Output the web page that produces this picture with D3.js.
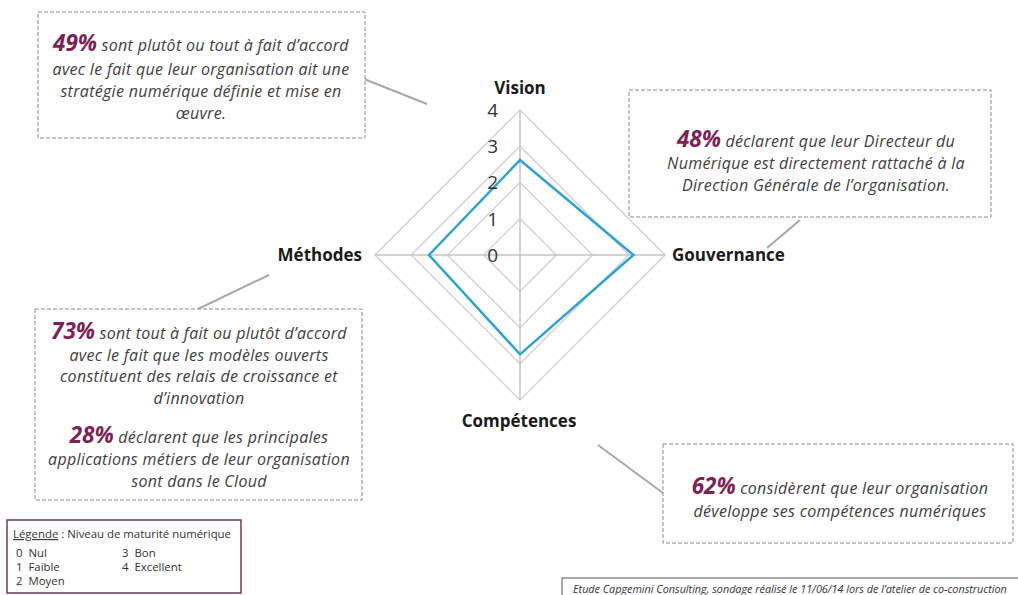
<!DOCTYPE html>
<html>
<head>
<meta charset="utf-8">
<script src="https://cdn.jsdelivr.net/npm/d3@7"></script>
<style>
  body { margin: 0; background: #fff; }
  svg { display: block; font-family: "Open Sans", Lato, sans-serif; }
</style>
</head>
<body>
<svg id="chart" width="1018" height="595"></svg>
<script>
// radar data
const axes = ["Vision", "Gouvernance", "Compétences", "Méthodes"];
const scores = [2.62, 3.13, 2.74, 2.51];
const levels = [0, 1, 2, 3, 4];

// callout texts (percent + remaining words per line)
const vision_lines = [["49%", " sont plutôt ou tout à fait d’accord"], ["", "avec le fait que leur organisation ait une"], ["", "stratégie numérique définie et mise en"], ["", "œuvre."]];
const gouv_lines = [["48%", " déclarent que leur Directeur du"], ["", "Numérique est directement rattaché à la"], ["", "Direction Générale de l’organisation."]];
const meth_lines = [["73%", " sont tout à fait ou plutôt d’accord"], ["", "avec le fait que les modèles ouverts"], ["", "constituent des relais de croissance et"], ["", "d’innovation"], ["28%", " déclarent que les principales"], ["", "applications métiers de leur organisation"], ["", "sont dans le Cloud"]];
const comp_lines = [["62%", " considèrent que leur organisation"], ["", "développe ses compétences numériques"]];

// legend
const legendCodes = ["0 Nul", "1 Faible", "2 Moyen", "3 Bon", "4 Excellent"];

const svg = d3.select("#chart");
const cx = 520, cy = 255;

const r = d3.scaleLinear().domain([0, 4]).range([0, 145]);
const angle = d3.scalePoint().domain(axes).range([0, 2 * Math.PI * 3 / 4]);

const g = svg.append("g").attr("transform", `translate(${cx},${cy})`);

// grid rings
const ring = d3.lineRadial()
  .angle(d => angle(d))
  .curve(d3.curveLinearClosed);

g.selectAll(".ring")
  .data(levels.slice(1))
  .enter()
  .append("path")
  .attr("d", lv => ring.radius(() => r(lv))(axes))
  .attr("fill", "none")
  .attr("stroke", "#d3d3d3")
  .attr("stroke-width", 1.5);

// spokes
g.selectAll(".spoke")
  .data(axes)
  .enter()
  .append("line")
  .attr("x1", 0).attr("y1", 0)
  .attr("x2", d => r(4) * Math.sin(angle(d)))
  .attr("y2", d => -r(4) * Math.cos(angle(d)))
  .attr("stroke", "#c4c4c4")
  .attr("stroke-width", 1.5);

// series
const series = d3.lineRadial()
  .angle((d, i) => angle(axes[i]))
  .radius(d => r(d))
  .curve(d3.curveLinearClosed);

g.append("path")
  .attr("d", series(scores))
  .attr("fill", "none")
  .attr("stroke", "#2ea3d2")
  .attr("stroke-width", 2.5);

// tick labels
g.selectAll(".tick")
  .data(levels)
  .enter()
  .append("text")
  .attr("x", -22)
  .attr("y", d => -r(d))
  .attr("dy", "0.36em")
  .attr("text-anchor", "end")
  .attr("font-size", 19)
  .attr("fill", "#333")
  .text(d => d);

// axis labels
const labelPos = {
  "Vision": { x: 0, y: -161, anchor: "middle" },
  "Gouvernance": { x: 152, y: 6, anchor: "start" },
  "Compétences": { x: -1, y: 172, anchor: "middle" },
  "Méthodes": { x: -158, y: 6, anchor: "end" }
};
g.selectAll(".axis-label")
  .data(axes)
  .enter()
  .append("text")
  .attr("x", d => labelPos[d].x)
  .attr("y", d => labelPos[d].y)
  .attr("text-anchor", d => labelPos[d].anchor)
  .attr("font-size", 17)
  .attr("font-weight", "bold")
  .attr("fill", "#1a1a1a")
  .text(d => d);

// callouts
function callout(box, lines, tx, ys, conn) {
  svg.append("line")
    .attr("x1", conn[0]).attr("y1", conn[1])
    .attr("x2", conn[2]).attr("y2", conn[3])
    .attr("stroke", "#a8a8a8")
    .attr("stroke-width", 2);
  svg.append("rect")
    .attr("x", box[0]).attr("y", box[1])
    .attr("width", box[2]).attr("height", box[3])
    .attr("fill", "#fff")
    .attr("stroke", "#8a8a8a")
    .attr("stroke-width", 1)
    .attr("stroke-dasharray", "4,2");
  lines.forEach((l, i) => {
    const t = svg.append("text")
      .attr("x", tx).attr("y", ys[i])
      .attr("text-anchor", "middle")
      .attr("font-style", "italic")
      .attr("font-size", 16)
      .attr("letter-spacing", 0.3)
      .attr("fill", "#404040");
    if (l[0]) {
      t.append("tspan")
        .attr("font-size", 22.5)
        .attr("font-weight", "bold")
        .attr("letter-spacing", 0)
        .attr("fill", "#7a2354")
        .text(l[0]);
    }
    t.append("tspan").text(l[1]);
  });
}

callout([38, 12, 327, 126], vision_lines, 201, [51, 75, 97, 119], [364, 79, 427, 104]);
callout([629, 90, 362, 127], gouv_lines, 816, [147, 169, 191], [800, 220, 767, 248]);
callout([35, 309, 327, 191], meth_lines, 199, [339, 361, 382, 404, 443, 465, 487], [198, 309, 269, 275]);
callout([663, 444, 350, 99], comp_lines, 840, [494, 517], [598, 445, 663, 493]);

// legend box
const lg = svg.append("g");
lg.append("rect")
  .attr("x", 7).attr("y", 520)
  .attr("width", 234).attr("height", 73)
  .attr("fill", "#fff")
  .attr("stroke", "#6e3a58")
  .attr("stroke-width", 1.5);
const lt = lg.append("text")
  .attr("x", 13).attr("y", 538)
  .attr("font-size", 11.4)
  .attr("fill", "#333");
lt.append("tspan").attr("text-decoration", "underline").text("Légende");
lt.append("tspan").text(" : Niveau de maturité numérique");
lg.selectAll(".code")
  .data(legendCodes)
  .enter()
  .append("text")
  .attr("x", (d, i) => i < 3 ? 16 : 122)
  .attr("y", (d, i) => 557 + (i % 3) * 14)
  .attr("font-size", 11.4)
  .attr("fill", "#333")
  .attr("xml:space", "preserve")
  .text(d => d.replace(" ", "  "));

// source footer
svg.append("rect")
  .attr("x", 562).attr("y", 578)
  .attr("width", 470).attr("height", 30)
  .attr("fill", "#fff")
  .attr("stroke", "#555")
  .attr("stroke-width", 1);
svg.append("text")
  .attr("x", 573).attr("y", 593)
  .attr("font-size", 10.8)
  .attr("font-style", "italic")
  .attr("fill", "#333")
  .text("Etude Capgemini Consulting, sondage réalisé  le 11/06/14 lors de l’atelier de co-construction");
</script>
</body>
</html>
